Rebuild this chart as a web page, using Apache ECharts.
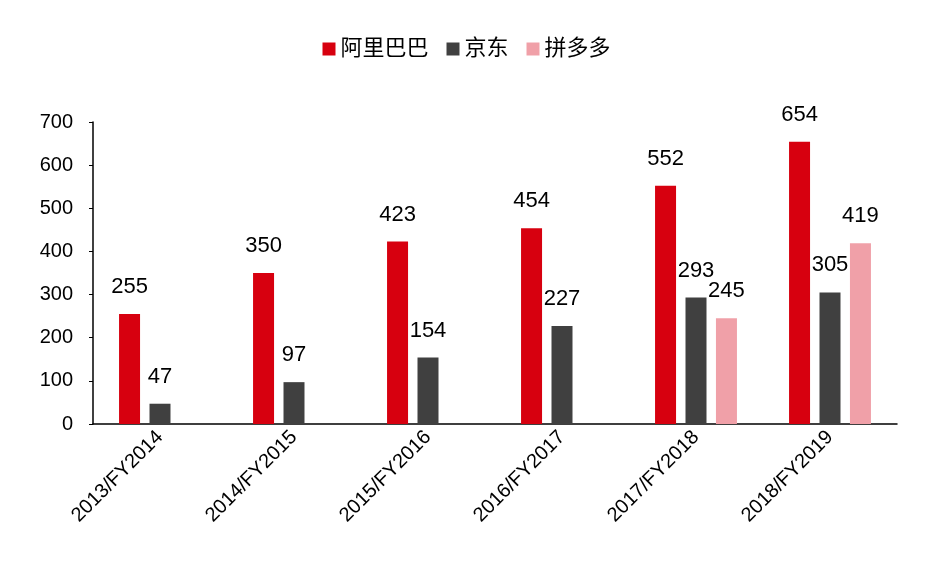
<!DOCTYPE html><html><head><meta charset="utf-8"><script src="https://cdn.jsdelivr.net/npm/echarts@6/dist/echarts.min.js"></script></head><body style="margin:0"><div id="c" style="width:933px;height:576px"></div><script>
const categories=['2013/FY2014','2014/FY2015','2015/FY2016','2016/FY2017','2017/FY2018','2018/FY2019'];
const alibaba=[255,350,423,454,552,654];
const jd=[47,97,154,227,293,305];
const pdd=[null,null,null,null,245,419];
const yTicks=[0,100,200,300,400,500,600,700];
const ff='Arial, "Liberation Sans", "Noto Sans CJK SC", sans-serif';
const lbl={show:true,position:'top',distance:16,fontSize:22,color:'#000',fontFamily:ff};
const mk=(n,d,c)=>({name:n,type:'bar',data:d,barWidth:21,barGap:'45%',itemStyle:{color:c},label:lbl});
echarts.init(document.getElementById('c')).setOption({
animation:false,
legend:{top:33,left:'center',itemWidth:13,itemHeight:13,itemGap:18,icon:'rect',textStyle:{fontSize:22,fontFamily:ff,color:'#000'}},
grid:{left:93,right:36,top:122,bottom:152},
xAxis:{type:'category',data:categories,axisLine:{lineStyle:{color:'#000',width:1.5}},axisTick:{show:false},axisLabel:{rotate:45,fontSize:20,color:'#000',fontFamily:ff,interval:0,margin:10}},
yAxis:{type:'value',min:yTicks[0],max:yTicks[yTicks.length-1],interval:100,splitLine:{show:false},axisLine:{show:true,lineStyle:{color:'#000',width:1.5}},axisTick:{show:true,inside:false,length:4},axisLabel:{fontSize:20,color:'#000',fontFamily:ff,margin:20}},
series:[mk('阿里巴巴',alibaba,'#d7000f'),mk('京东',jd,'#404040'),mk('拼多多',pdd,'#f0a0a8')]
});
</script></body></html>
